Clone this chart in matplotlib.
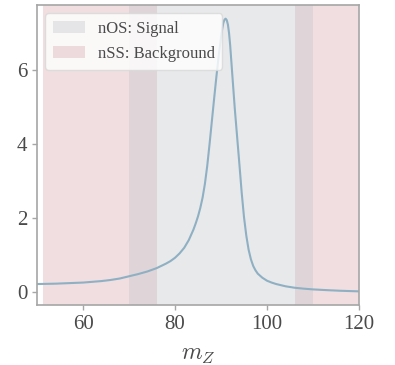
import matplotlib
matplotlib.use("Agg")
import matplotlib.pyplot as plt

# Dilepton invariant-mass lineshape (m_Z, density pairs)
m_z = [50, 52, 54, 56, 58, 60, 62, 64, 66, 68, 70, 72, 74, 76, 77, 78, 79,
       80, 81, 82, 83, 84, 84.5, 85, 85.5, 86, 86.5, 87, 87.5, 88, 88.5, 89,
       89.5, 90, 90.25, 90.5, 90.75, 91, 91.25, 91.5, 91.75, 92, 92.5, 93,
       93.5, 94, 94.5, 95, 95.5, 96, 96.5, 97, 97.5, 98, 99, 100, 101, 102,
       104, 106, 108, 110, 113, 116, 120]
density = [0.21, 0.215, 0.22, 0.23, 0.24, 0.25, 0.27, 0.29, 0.32, 0.36, 0.42,
           0.48, 0.55, 0.64, 0.70, 0.76, 0.83, 0.92, 1.04, 1.19, 1.40, 1.68,
           1.85, 2.04, 2.27, 2.55, 2.92, 3.40, 3.98, 4.60, 5.22, 5.82, 6.38,
           6.88, 7.10, 7.27, 7.36, 7.39, 7.35, 7.23, 7.00, 6.66, 5.80, 4.95,
           4.20, 3.45, 2.68, 2.02, 1.52, 1.14, 0.88, 0.70, 0.58, 0.49, 0.38,
           0.30, 0.25, 0.21, 0.15, 0.11, 0.085, 0.065, 0.045, 0.028, 0.012]

# Mass windows
signal_window = (70, 110)
background_windows = [(51.3, 76), (106, 121)]
labels = ["nOS: Signal", "nSS: Background"]

text_col = "#4a4a4a"
spine_col = "#a6a6a6"
plt.rcParams["font.family"] = ["Liberation Serif", "DejaVu Serif"]
plt.rcParams["mathtext.fontset"] = "cm"

fig = plt.figure(figsize=(3.95, 3.65), dpi=100)
ax = fig.add_axes([37 / 395, 60 / 365, 322 / 395, 300 / 365])

for lo, hi in background_windows:
    ax.axvspan(lo, hi, color="#daadb2", alpha=0.4, lw=0,
               label=labels[1] if lo == background_windows[0][0] else None)
ax.axvspan(*signal_window, color="#c6c8cd", alpha=0.4, lw=0, label=labels[0])

ax.plot(m_z, density, color="#8fb0c3", lw=1.5)

ax.set_xlim(50, 120)
ax.set_xticks([60, 80, 100, 120])
ax.set_yticks([0, 2, 4, 6])
ax.set_xlabel(r"$m_Z$", fontsize=17, color=text_col, labelpad=8)

for s in ax.spines.values():
    s.set_color(spine_col)
    s.set_linewidth(1.2)
ax.tick_params(axis="both", colors=spine_col, labelcolor=text_col,
               labelsize=15, length=3.5, width=1.0, direction="out")

handles, labs = ax.get_legend_handles_labels()
order = [labs.index(labels[0]), labs.index(labels[1])]
leg = ax.legend([handles[i] for i in order], [labs[i] for i in order],
                loc="upper left", fontsize=12, frameon=True, fancybox=True,
                framealpha=0.8, edgecolor="#d8d8d8", borderpad=0.45,
                handlelength=1.9, handletextpad=0.8, labelspacing=0.55,
                bbox_to_anchor=(0.0, 1.0))
for t in leg.get_texts():
    t.set_color(text_col)

fig.savefig("out.png", dpi=100)
